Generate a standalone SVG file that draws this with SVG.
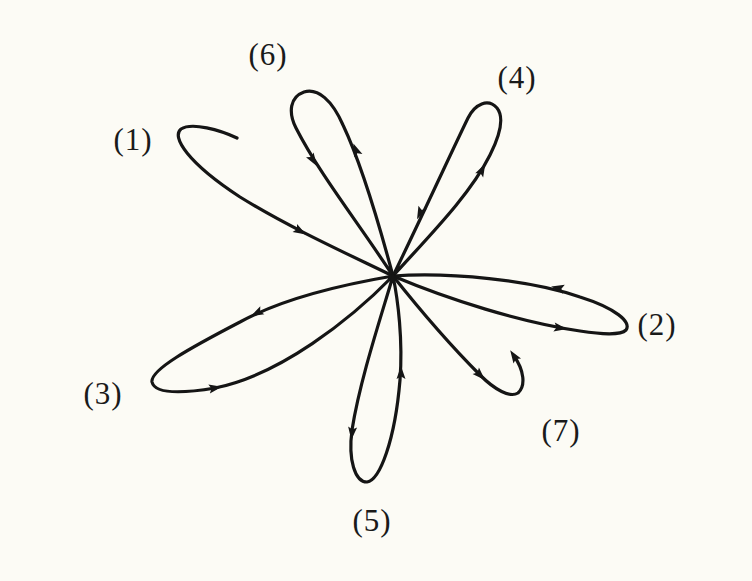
<svg xmlns="http://www.w3.org/2000/svg" width="752" height="581" viewBox="0 0 752 581">
<style>
.c{fill:none;stroke:#151515;stroke-width:3.2;stroke-linecap:round;stroke-linejoin:round}
.a{fill:#151515}
.l{font-family:"Liberation Serif","DejaVu Serif",serif;font-size:31px;fill:#1a1a1a;text-anchor:middle;letter-spacing:1px}
</style>
<defs>
<path id="ah" d="M7,0 L-6,-4.5 L-3.5,0 L-6,4.5 Z"/>
</defs>
<rect width="752" height="581" fill="#fcfbf5"/>
<g id="connectors">
<path id="p1" class="c" d="M237,138 C220,130 192,122 181,129 C171,137 188,163 240,197 C290,228 350,255 393,276"/>
<path id="p6" class="c" d="M393,276 C378,220 362,165 343,125 C332,100 318,88 304,92 C290,97 288,112 296,128 C320,175 360,225 393,276"/>
<path id="p4" class="c" d="M393,276 C430,235 470,195 490,155 C500,135 505,118 497,108 C488,98 475,104 468,118 C450,155 425,210 393,276"/>
<path id="p2" class="c" d="M393,276 C450,272 530,280 580,297 C615,308 632,322 626,330 C620,336 600,334 580,331 C520,322 450,300 393,276"/>
<path id="p7" class="c" d="M393,276 C420,310 455,350 480,375 C495,390 510,398 518,393 C526,386 524,370 514,356"/>
<path id="p3" class="c" d="M393,276 C340,285 280,300 240,322 C190,348 150,370 152,382 C155,395 185,393 215,388 C280,375 350,320 393,276"/>
<path id="p5" class="c" d="M393,276 C380,320 360,380 352,430 C348,460 355,482 367,482 C380,480 395,440 400,380 C403,340 398,300 393,276"/>
<g class="a">
<use href="#ah" transform="translate(300,231) rotate(30)"/>
<use href="#ah" transform="translate(356,150) rotate(-112)"/>
<use href="#ah" transform="translate(313,160) rotate(58)"/>
<use href="#ah" transform="translate(482,170) rotate(-62)"/>
<use href="#ah" transform="translate(420,213) rotate(115)"/>
<use href="#ah" transform="translate(558,288) rotate(-168)"/>
<use href="#ah" transform="translate(560,328) rotate(9)"/>
<use href="#ah" transform="translate(480,375) rotate(45)"/>
<use href="#ah" transform="translate(514,356) rotate(-123)"/>
<use href="#ah" transform="translate(257,313) rotate(153)"/>
<use href="#ah" transform="translate(215,388) rotate(-10)"/>
<use href="#ah" transform="translate(352,433) rotate(96)"/>
<use href="#ah" transform="translate(401,373) rotate(-90)"/>
</g>
</g>
<g id="n1"><text class="l" x="133" y="150">(1)</text></g>
<g id="n2"><text class="l" x="657" y="335">(2)</text></g>
<g id="n3"><text class="l" x="103" y="404">(3)</text></g>
<g id="n4"><text class="l" x="517" y="88">(4)</text></g>
<g id="n5"><text class="l" x="372" y="531">(5)</text></g>
<g id="n6"><text class="l" x="268" y="65">(6)</text></g>
<g id="n7"><text class="l" x="561" y="441">(7)</text></g>
</svg>
